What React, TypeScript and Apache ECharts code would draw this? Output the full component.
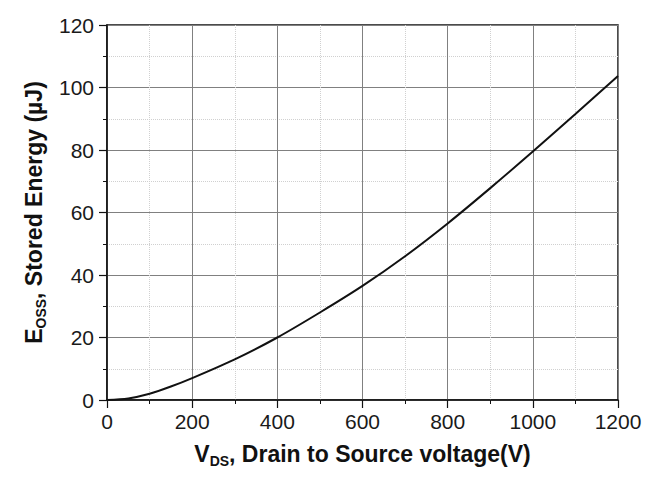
import React, { useEffect, useRef } from "react";
import * as echarts from "echarts";

const voltage = [0, 50, 100, 150, 200, 300, 400, 500, 600, 700, 800, 900, 1000, 1100, 1200];
const energy = [0, 0.5, 2, 4.3, 7, 13, 20, 28, 36.5, 46, 56.5, 67.8, 79.5, 91.5, 103.7];
const xTitle = "{m|V}{s|DS}{m|, Drain to Source voltage(V)}";
const yTitle = "{m|E}{s|OSS}{m|, Stored Energy (µJ)}";

export default function App() {
  const ref = useRef<HTMLDivElement>(null);
  useEffect(() => {
    const chart = echarts.init(ref.current!, null, { renderer: "svg" });
    const font = "Liberation Sans, Arial, sans-serif";
    const rich = {
      m: { fontSize: 23, fontWeight: "bold", fontFamily: font, color: "#111" },
      s: { fontSize: 14, fontWeight: "bold", fontFamily: font, color: "#111", padding: [14, 0, 0, 0] },
    };
    const fmt = (v: number) => String(v);
    chart.setOption({
      animation: false,
      grid: { left: 107, right: 35, top: 25, bottom: 86, show: true, borderColor: "#111", borderWidth: 1.5, backgroundColor: "transparent" },
      xAxis: {
        type: "value",
        min: 0,
        max: 1200,
        interval: 200,
        name: xTitle,
        nameLocation: "middle",
        nameGap: 40,
        nameTextStyle: { rich },
        axisLine: { lineStyle: { color: "#111", width: 1.5 } },
        axisTick: { show: true, length: 8, lineStyle: { color: "#111", width: 1.2 } },
        minorTick: { show: true, splitNumber: 2, length: 4, lineStyle: { color: "#111" } },
        axisLabel: { fontSize: 21, color: "#1a1a1a", fontFamily: font, margin: 11, formatter: fmt },
        splitLine: { show: true, lineStyle: { color: "#808080", width: 1 } },
        minorSplitLine: { show: true, lineStyle: { color: "#d0d0d0", type: "dotted", width: 1 } },
      },
      yAxis: {
        type: "value",
        min: 0,
        max: 120,
        interval: 20,
        name: yTitle,
        nameLocation: "middle",
        nameGap: 53,
        nameRotate: 90,
        nameTextStyle: { rich },
        axisLine: { show: true, lineStyle: { color: "#111", width: 1.5 } },
        axisTick: { show: true, length: 8, lineStyle: { color: "#111", width: 1.2 } },
        minorTick: { show: true, splitNumber: 2, length: 4, lineStyle: { color: "#111" } },
        axisLabel: { fontSize: 21, color: "#1a1a1a", fontFamily: font, margin: 13, formatter: fmt },
        splitLine: { show: true, lineStyle: { color: "#808080", width: 1 } },
        minorSplitLine: { show: true, lineStyle: { color: "#d0d0d0", type: "dotted", width: 1 } },
      },
      series: [
        {
          type: "line",
          data: voltage.map((v, i) => [v, energy[i]]),
          smooth: 0.3,
          showSymbol: false,
          lineStyle: { color: "#111", width: 2 },
        },
      ],
    });
    return () => chart.dispose();
  }, []);
  return <div ref={ref} style={{ position: "absolute", left: 0, top: 0, width: 653, height: 486 }} />;
}
